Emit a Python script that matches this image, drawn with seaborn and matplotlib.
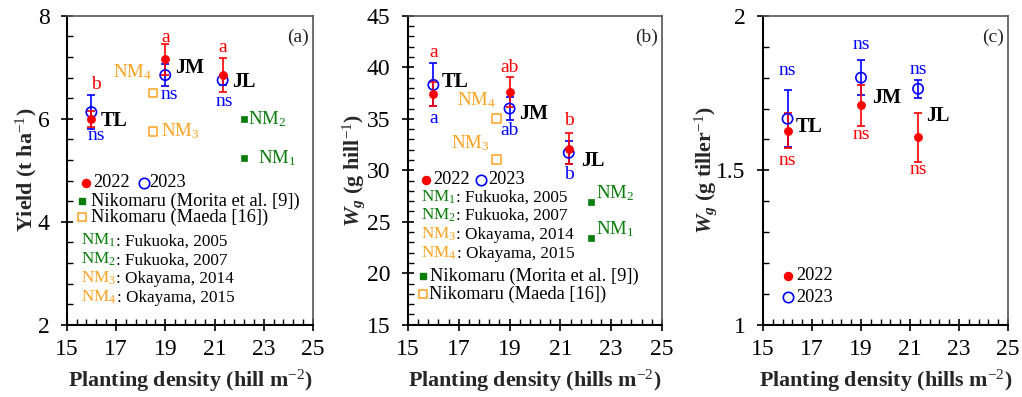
import numpy as np
import pandas as pd
import matplotlib
matplotlib.use("Agg")
import matplotlib.pyplot as plt
import seaborn as sns
from matplotlib.ticker import MultipleLocator, FuncFormatter

# ---------------- data ----------------
cultivars = ["TL", "JM", "JL"]
density = [16.0, 19.0, 21.33]

yield_2022 = [6.00, 7.16, 6.86]
yield_2022_err = [0.15, 0.30, 0.33]
yield_2023 = [6.13, 6.85, 6.75]
yield_2023_err = [0.33, 0.22, 0.10]
yield_sig_2022 = ["b", "a", "a"]
yield_sig_2023 = ["ns", "ns", "ns"]

wg_hill_2022 = [37.4, 37.6, 32.1]
wg_hill_2022_err = [1.2, 1.45, 1.5]
wg_hill_2023 = [38.3, 36.0, 31.7]
wg_hill_2023_err = [2.1, 1.1, 1.1]
wg_hill_sig_2022 = ["a", "ab", "b"]
wg_hill_sig_2023 = ["a", "ab", "b"]

wg_tiller_2022 = [1.628, 1.710, 1.607]
wg_tiller_2022_err = [0.056, 0.067, 0.080]
wg_tiller_2023 = [1.667, 1.800, 1.764]
wg_tiller_2023_err = [0.092, 0.057, 0.030]
wg_tiller_sig_2022 = ["ns", "ns", "ns"]
wg_tiller_sig_2023 = ["ns", "ns", "ns"]

nm_names = ["NM$_1$", "NM$_2$", "NM$_3$", "NM$_4$"]
nm_source = ["Morita", "Morita", "Maeda", "Maeda"]
nm_density = [22.2, 22.2, 18.5, 18.5]
nm_yield = [5.23, 6.00, 5.76, 6.50]
nm_wg_hill = [23.4, 26.9, 31.04, 35.03]
nm_desc = [": Fukuoka, 2005", ": Fukuoka, 2007", ": Okayama, 2014", ": Okayama, 2015"]

# ---------------- style ----------------
RED = "#ff0000"
BLUE = "#0000ff"
GREEN = "#0a7d0a"
ORANGE = "#ffa21f"

sns.set_theme(style="ticks")
plt.rcParams.update({
    "font.family": ["Liberation Serif", "DejaVu Serif"],
    "mathtext.fontset": "custom",
    "mathtext.rm": "Liberation Serif",
    "mathtext.it": "Liberation Serif:italic",
    "mathtext.bf": "Liberation Serif:bold",
    "axes.facecolor": "white",
})
try:
    plt.rcParams["mathtext.bfit"] = "Liberation Serif:bold:italic"
except KeyError:
    pass

fig = plt.figure(figsize=(10.22, 3.97), dpi=100)
ax_a = fig.add_axes([0.0653, 0.182, 0.241, 0.778])
ax_b = fig.add_axes([0.3992, 0.182, 0.2485, 0.778])
ax_c = fig.add_axes([0.7466, 0.182, 0.2397, 0.778])


def setup(ax, ylim, ymaj, ymin, ylabel, xlabel, ylab_x, panel):
    ax.set_xlim(15, 25)
    ax.set_ylim(*ylim)
    ax.xaxis.set_major_locator(MultipleLocator(2, offset=1))
    ax.xaxis.set_minor_locator(MultipleLocator(0.4, offset=0.2))
    ax.yaxis.set_major_locator(MultipleLocator(ymaj))
    ax.yaxis.set_minor_locator(MultipleLocator(ymin))
    ax.tick_params(which="major", direction="inout", length=9, width=1.2,
                   labelsize=17, color="black", labelcolor="black")
    ax.tick_params(axis="y", which="major", pad=8)
    ax.tick_params(axis="x", which="major", pad=6)
    ax.tick_params(which="minor", direction="in", length=4, width=1.0, color="black")
    ax.tick_params(top=False, right=False, which="both")
    for s in ["left", "bottom"]:
        ax.spines[s].set_color("black")
        ax.spines[s].set_linewidth(1.5)
    for s in ["top", "right"]:
        ax.spines[s].set_visible(True)
        ax.spines[s].set_color("#555555")
        ax.spines[s].set_linewidth(1.2)
    ax.set_xlabel(xlabel, fontsize=15.8, fontweight="bold")
    ax.set_ylabel(ylabel, fontsize=15.8, fontweight="bold")
    ax.xaxis.set_label_coords(0.5, -0.14)
    ax.yaxis.set_label_coords(ylab_x, 0.5)
    ax.yaxis.label.set_va("center")
    ax.text(0.94, 0.93, panel, transform=ax.transAxes, ha="center", va="center",
            fontsize=14)


def draw_means(ax, v22, e22, v23, e23):
    ax.errorbar(density, v23, yerr=e23, fmt="none", ecolor=BLUE, elinewidth=1.2,
                capsize=3, capthick=1.2, zorder=3)
    ax.errorbar(density, v22, yerr=e22, fmt="none", ecolor=RED, elinewidth=1.2,
                capsize=3, capthick=1.2, zorder=3)
    d23 = pd.DataFrame({"density": density, "value": v23})
    d22 = pd.DataFrame({"density": density, "value": v22})
    sns.scatterplot(data=d23, x="density", y="value", ax=ax, marker="o", s=55,
                    facecolor="none", edgecolor=BLUE, linewidth=1.2, zorder=4)
    sns.scatterplot(data=d22, x="density", y="value", ax=ax, marker="o", s=34,
                    color=RED, edgecolor=RED, linewidth=0.5, zorder=5)


def draw_nm(ax, values, idx):
    df = pd.DataFrame({"density": [nm_density[i] for i in idx],
                       "value": [values[i] for i in idx],
                       "source": [nm_source[i] for i in idx]})
    m = df[df.source == "Morita"]
    o = df[df.source == "Maeda"]
    if len(m):
        sns.scatterplot(data=m, x="density", y="value", ax=ax, marker="s", s=20,
                        color=GREEN, edgecolor=GREEN, linewidth=0.5, zorder=4)
    if len(o):
        sns.scatterplot(data=o, x="density", y="value", ax=ax, marker="s", s=40,
                        facecolor="none", edgecolor=ORANGE, linewidth=1.1, zorder=4)


def label(ax, x, y, text, dx, dy, color="black", ha="center", va="center",
          size=14, weight="normal"):
    ax.annotate(text, xy=(x, y), xytext=(dx, dy), textcoords="offset pixels",
                ha=ha, va=va, color=color, fontsize=size, fontweight=weight)


def legend_line(ax, x, y, name, color, desc, size=12.3):
    t = ax.text(x, y, name, transform=ax.transAxes, color=color, fontsize=size,
                ha="left", va="baseline")
    ax.annotate(desc, xy=(1, 0), xycoords=t, xytext=(0, 0), textcoords="offset pixels",
                ha="left", va="bottom", fontsize=size, color="black")
    return t


def marker_legend(ax, x, y, kind, color, text, tx, size=13.2):
    if kind == "dot":
        ax.plot([x], [y], transform=ax.transAxes, marker="o", ms=5.8, color=color,
                ls="none", clip_on=False)
    elif kind == "circle":
        ax.plot([x], [y], transform=ax.transAxes, marker="o", ms=7.5, mfc="none",
                mec=color, mew=1.2, ls="none", clip_on=False)
    elif kind == "fsq":
        ax.plot([x], [y], transform=ax.transAxes, marker="s", ms=5, color=color,
                ls="none", clip_on=False)
    else:
        ax.plot([x], [y], transform=ax.transAxes, marker="s", ms=6.2, mfc="none",
                mec=color, mew=1.1, ls="none", clip_on=False)
    ax.text(tx, y, text, transform=ax.transAxes, fontsize=size, ha="left",
            va="center", color="black")


# ---------------- panel (a) ----------------
setup(ax_a, (2, 8), 2, 0.4, "Yield (t ha$^{-1}$)",
      "Planting density (hill m$^{-2}$)", -0.165, "(a)")
draw_means(ax_a, yield_2022, yield_2022_err, yield_2023, yield_2023_err)
draw_nm(ax_a, nm_yield, [0, 1, 2, 3])

a_sig22_off = [(5, 34), (0, 22), (0, 27)]
a_sig23_off = [(5, -23), (4, -19), (2, -21)]
a_lab_off = [(9, -2), (10, -9), (9, -7)]
for i in range(3):
    label(ax_a, density[i], yield_2022[i], yield_sig_2022[i], *a_sig22_off[i], color=RED)
    label(ax_a, density[i], yield_2023[i], yield_sig_2023[i], *a_sig23_off[i], color=BLUE)
    label(ax_a, density[i], yield_2022[i], cultivars[i], *a_lab_off[i], ha="left",
          weight="bold", size=14.5)

a_nm_off = [(14, 0, "left"), (4, 0, "left"), (8, 0, "left"), (-1, 21, "right")]
for i in range(4):
    col = GREEN if nm_source[i] == "Morita" else ORANGE
    dx, dy, ha = a_nm_off[i]
    label(ax_a, nm_density[i], nm_yield[i], nm_names[i], dx, dy, color=col, ha=ha, size=13.5)

marker_legend(ax_a, 0.078, 0.46, "dot", RED, "2022", 0.108)
marker_legend(ax_a, 0.314, 0.46, "circle", BLUE, "2023", 0.336)
marker_legend(ax_a, 0.061, 0.401, "fsq", GREEN, "Nikomaru (Morita et al. [9])", 0.100)
marker_legend(ax_a, 0.061, 0.348, "osq", ORANGE, "Nikomaru (Maeda [16])", 0.100)
for i, yy in enumerate([0.258, 0.197, 0.135, 0.074]):
    col = GREEN if nm_source[i] == "Morita" else ORANGE
    legend_line(ax_a, 0.058, yy, nm_names[i], col, nm_desc[i])

# ---------------- panel (b) ----------------
setup(ax_b, (15, 45), 5, 1, r"$\mathbfit{W}_{\mathbfit{g}}$ (g hill$^{-1}$)",
      "Planting density (hills m$^{-2}$)", -0.215, "(b)")
draw_means(ax_b, wg_hill_2022, wg_hill_2022_err, wg_hill_2023, wg_hill_2023_err)
draw_nm(ax_b, nm_wg_hill, [0, 1, 2, 3])

b_sig22_off = [(0, 42), (0, 25), (0, 28)]
b_sig23_off = [(0, -34), (0, -22), (0, -22)]
b_lab_off = [(8, 3), (10, -5), (12, -8)]
for i in range(3):
    label(ax_b, density[i], wg_hill_2022[i], wg_hill_sig_2022[i], *b_sig22_off[i], color=RED)
    label(ax_b, density[i], wg_hill_2023[i], wg_hill_sig_2023[i], *b_sig23_off[i], color=BLUE)
    label(ax_b, density[i], wg_hill_2023[i], cultivars[i], *b_lab_off[i], ha="left",
          weight="bold", size=14.5)

b_nm_off = [(5, 9, "left"), (5, 9, "left"), (-7, 16, "right"), (-1, 18, "right")]
for i in range(4):
    col = GREEN if nm_source[i] == "Morita" else ORANGE
    dx, dy, ha = b_nm_off[i]
    label(ax_b, nm_density[i], nm_wg_hill[i], nm_names[i], dx, dy, color=col, ha=ha, size=13.5)

marker_legend(ax_b, 0.071, 0.47, "dot", RED, "2022", 0.098)
marker_legend(ax_b, 0.286, 0.47, "circle", BLUE, "2023", 0.315)
for i, yy in enumerate([0.40, 0.34, 0.279, 0.218]):
    col = GREEN if nm_source[i] == "Morita" else ORANGE
    legend_line(ax_b, 0.051, yy, nm_names[i], col, nm_desc[i])
marker_legend(ax_b, 0.060, 0.158, "fsq", GREEN, "Nikomaru (Morita et al. [9])", 0.086)
marker_legend(ax_b, 0.058, 0.098, "osq", ORANGE, "Nikomaru (Maeda [16])", 0.083)

# ---------------- panel (c) ----------------
setup(ax_c, (1, 2), 0.5, 0.1, r"$\mathbfit{W}_{\mathbfit{g}}$ (g tiller$^{-1}$)",
      "Planting density (hills m$^{-2}$)", -0.235, "(c)")
draw_means(ax_c, wg_tiller_2022, wg_tiller_2022_err, wg_tiller_2023, wg_tiller_2023_err)
ax_c.yaxis.set_major_formatter(FuncFormatter(lambda v, p: f"{v:g}"))

c_sig22_off = [(0, -30), (0, -29), (0, -32)]
c_sig23_off = [(0, 48), (0, 33), (0, 19)]
c_lab_off = [(8, -8), (11, -20), (8, -27)]
for i in range(3):
    label(ax_c, density[i], wg_tiller_2022[i], wg_tiller_sig_2022[i], *c_sig22_off[i], color=RED)
    label(ax_c, density[i], wg_tiller_2023[i], wg_tiller_sig_2023[i], *c_sig23_off[i], color=BLUE)
    label(ax_c, density[i], wg_tiller_2023[i], cultivars[i], *c_lab_off[i], ha="left",
          weight="bold", size=14.5)

marker_legend(ax_c, 0.101, 0.159, "dot", RED, "2022", 0.135)
marker_legend(ax_c, 0.101, 0.089, "circle", BLUE, "2023", 0.135)

fig.savefig("out.png", dpi=100)
